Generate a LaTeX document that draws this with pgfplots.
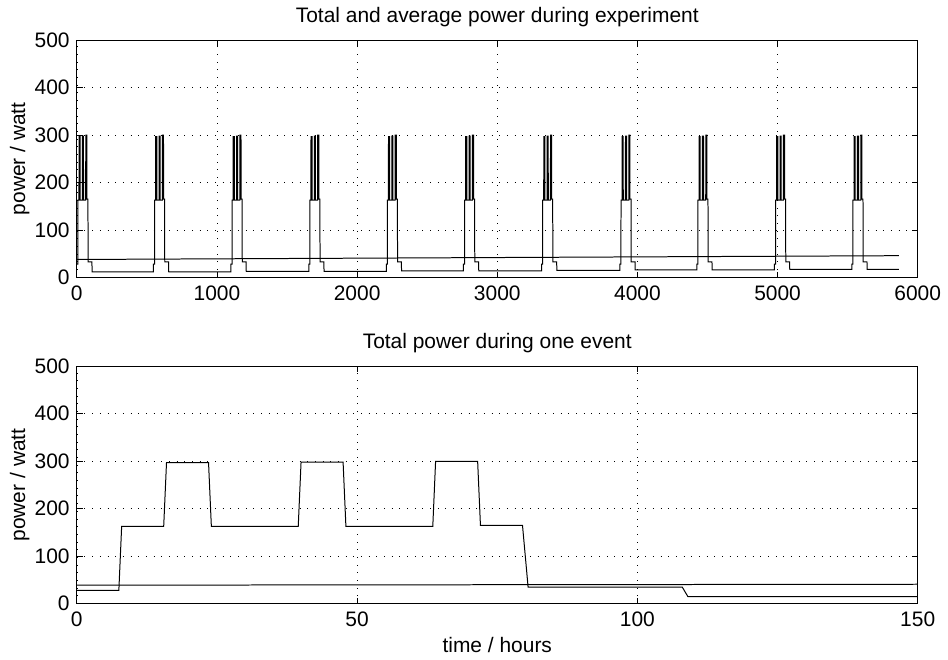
\documentclass[border=0pt]{standalone}
\usepackage{fontspec}
\setmainfont{Liberation Sans}
\usepackage{pgfplots}
\pgfplotsset{compat=1.18}

\pgfplotsset{
  matlab/.style={
    scale only axis,
    width=843pt, height=238pt,
    ymin=0, ymax=500, ytick={0,100,...,500},
    tick align=inside,
    major tick length=6pt,
    grid=major,
    grid style={black, line width=0.6pt, dash pattern=on 0.7pt off 7pt},
    axis line style={line width=0.9pt},
    every tick/.style={black, line width=0.9pt},
    /pgf/number format/assume math mode=true,
    /pgf/number format/1000 sep={},
    scaled x ticks=false,
    xticklabel style={yshift=-1pt},
    title style={at={(0.5,1)}, anchor=base, yshift=12pt},
    ylabel={power / watt},
    ylabel style={at={(axis description cs:-0.068,0.5)}, anchor=center},
  },
}

\begin{document}
\fontsize{21}{24}\selectfont
\begin{tikzpicture}
% whole experiment
\begin{axis}[matlab,
    name=top,
    xmin=0, xmax=6000, xtick={0,1000,...,6000},
    title={Total and average power during experiment},
  ]
  \addplot[black, line width=1pt] coordinates {
    (0,28) (7.5,28) (8,163) (15.5,163) (16,297) (23.5,297) (24,163) (39.5,163) (40,298) (47.5,298) (48,163) (63.5,163) (64,300) (71.5,300) (72,165) (79.5,165) (80.5,33) (108,33) (109,12)
    (547,12) (547,28) (554.5,28) (555,163) (562.5,163) (563,297) (570.5,297) (571,163) (586.5,163) (587,298) (594.5,298) (595,163) (610.5,163) (611,300) (618.5,300) (619,165) (626.5,165) (627.5,33) (655,33) (656,12)
    (1100,12) (1100,28) (1107.5,28) (1108,163) (1115.5,163) (1116,297) (1123.5,297) (1124,163) (1139.5,163) (1140,298) (1147.5,298) (1148,163) (1163.5,163) (1164,300) (1171.5,300) (1172,165) (1179.5,165) (1180.5,33) (1208,33) (1209,13)
    (1655,13) (1655,28) (1662.5,28) (1663,163) (1670.5,163) (1671,297) (1678.5,297) (1679,163) (1694.5,163) (1695,298) (1702.5,298) (1703,163) (1718.5,163) (1719,300) (1726.5,300) (1727,165) (1734.5,165) (1735.5,33) (1763,33) (1764,13)
    (2208,13) (2208,28) (2215.5,28) (2216,163) (2223.5,163) (2224,297) (2231.5,297) (2232,163) (2247.5,163) (2248,298) (2255.5,298) (2256,163) (2271.5,163) (2272,300) (2279.5,300) (2280,165) (2287.5,165) (2288.5,33) (2316,33) (2317,14)
    (2759,14) (2759,28) (2766.5,28) (2767,163) (2774.5,163) (2775,297) (2782.5,297) (2783,163) (2798.5,163) (2799,298) (2806.5,298) (2807,163) (2822.5,163) (2823,300) (2830.5,300) (2831,165) (2838.5,165) (2839.5,33) (2867,33) (2868,14)
    (3316,14) (3316,28) (3323.5,28) (3324,163) (3331.5,163) (3332,297) (3339.5,297) (3340,163) (3355.5,163) (3356,298) (3363.5,298) (3364,163) (3379.5,163) (3380,300) (3387.5,300) (3388,165) (3395.5,165) (3396.5,33) (3424,33) (3425,15)
    (3875,15) (3875,28) (3882.5,28) (3883,163) (3890.5,163) (3891,297) (3898.5,297) (3899,163) (3914.5,163) (3915,298) (3922.5,298) (3923,163) (3938.5,163) (3939,300) (3946.5,300) (3947,165) (3954.5,165) (3955.5,33) (3983,33) (3984,16)
    (4424,16) (4424,28) (4431.5,28) (4432,163) (4439.5,163) (4440,297) (4447.5,297) (4448,163) (4463.5,163) (4464,298) (4471.5,298) (4472,163) (4487.5,163) (4488,300) (4495.5,300) (4496,165) (4503.5,165) (4504.5,33) (4532,33) (4533,16)
    (4978,16) (4978,28) (4985.5,28) (4986,163) (4993.5,163) (4994,297) (5001.5,297) (5002,163) (5017.5,163) (5018,298) (5025.5,298) (5026,163) (5041.5,163) (5042,300) (5049.5,300) (5050,165) (5057.5,165) (5058.5,33) (5086,33) (5087,17)
    (5530,17) (5530,28) (5537.5,28) (5538,163) (5545.5,163) (5546,297) (5553.5,297) (5554,163) (5569.5,163) (5570,298) (5577.5,298) (5578,163) (5593.5,163) (5594,300) (5601.5,300) (5602,165) (5609.5,165) (5610.5,33) (5638,33) (5639,17)
    (5865,17)
  };
  % average power
  \addplot[black, line width=1pt] coordinates {(0,38) (5865,46)};
\end{axis}

% one event
\begin{axis}[matlab,
    name=bottom,
    at={(top.south west)}, anchor=north west, yshift=-89pt,
    xmin=0, xmax=150, xtick={0,50,100,150},
    title={Total power during one event},
    xlabel={time / hours},
    xlabel style={yshift=4pt},
  ]
  \addplot[black, line width=1pt] coordinates {
    (0,28) (7.5,28) (8,163) (15.5,163) (16,297) (23.5,297) (24,163) (39.5,163) (40,298) (47.5,298) (48,163) (63.5,163) (64,300) (71.5,300) (72,165) (79.5,165) (80.5,35) (108,35) (109,15) (150,15)
  };
  \addplot[black, line width=1pt] coordinates {(0,39) (150,41)};
\end{axis}
% page margins as in the reference
\path ([xshift=-77pt]top.south west) ([xshift=28pt]top.south east);
\end{tikzpicture}
\end{document}
